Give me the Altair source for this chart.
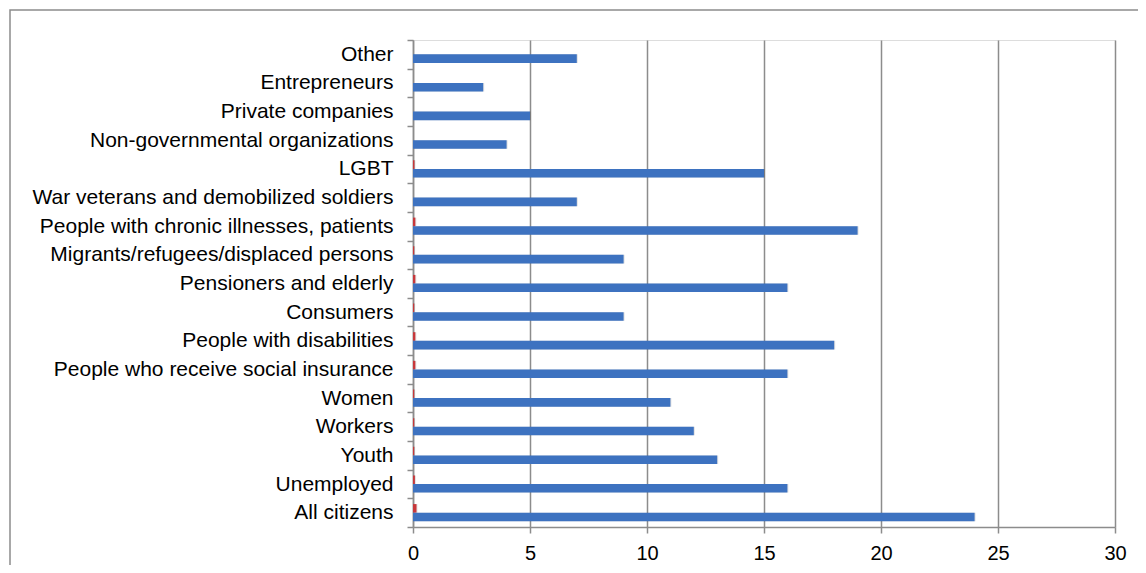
import altair as alt
import pandas as pd

categories = [
    "Other",
    "Entrepreneurs",
    "Private companies",
    "Non-governmental organizations",
    "LGBT",
    "War veterans and demobilized soldiers",
    "People with chronic illnesses, patients",
    "Migrants/refugees/displaced persons",
    "Pensioners and elderly",
    "Consumers",
    "People with disabilities",
    "People who receive social insurance",
    "Women",
    "Workers",
    "Youth",
    "Unemployed",
    "All citizens",
]
main_values = [7, 3, 5, 4, 15, 7, 19, 9, 16, 9, 18, 16, 11, 12, 13, 16, 24]
small_values = [0, 0, 0, 0, 0.06, 0, 0.1, 0.05, 0.1, 0.05, 0.1, 0.1, 0.05, 0.05, 0.05, 0.08, 0.15]
series_names = ["Series 2", "Series 1"]
series_colors = ["#c8373a", "#3d72c0"]
x_ticks = [0, 5, 10, 15, 20, 25, 30]

rows = []
for c, s2, s1 in zip(categories, small_values, main_values):
    rows.append({"category": c, "series": series_names[0], "value": s2})
    rows.append({"category": c, "series": series_names[1], "value": s1})
df = pd.DataFrame(rows)

FONT = "Liberation Sans"
GRAY = "#8c8c8c"

y_enc = alt.Y(
    "category:N",
    sort=categories,
    scale=alt.Scale(paddingInner=0, paddingOuter=0),
    axis=alt.Axis(
        title=None,
        tickBand="extent",
        grid=False,
        labelFontSize=21,
        labelFont=FONT,
        labelColor="#000000",
        labelPadding=14,
        labelLimit=500,
        tickSize=6,
        tickColor=GRAY,
        tickWidth=1.5,
        domainColor=GRAY,
        domainWidth=1.5,
    ),
)
x_enc = alt.X(
    "value:Q",
    scale=alt.Scale(domain=[0, 30], nice=False, zero=True),
    axis=alt.Axis(
        title=None,
        values=x_ticks,
        grid=True,
        gridColor=GRAY,
        gridWidth=1.5,
        labelFontSize=20,
        labelFont=FONT,
        labelColor="#000000",
        labelPadding=10,
        labelFlush=False,
        tickSize=6,
        tickColor=GRAY,
        tickWidth=1.5,
        domainColor=GRAY,
        domainWidth=1.5,
    ),
)
yoff = alt.YOffset(
    "series:N",
    sort=series_names,
    scale=alt.Scale(paddingInner=0, paddingOuter=0.667),
)

shadow = alt.Chart(df).mark_bar(
    color="#000000", opacity=0.12, xOffset=1, yOffset=3
).encode(y=y_enc, yOffset=yoff, x=x_enc)

bars = alt.Chart(df).mark_bar().encode(
    y=y_enc,
    yOffset=yoff,
    x=x_enc,
    color=alt.Color(
        "series:N",
        scale=alt.Scale(domain=series_names, range=series_colors),
        legend=None,
    ),
)

frame = alt.Chart(alt.Data(values=[{"k": 1}])).mark_rect(
    fill=None, stroke=GRAY, strokeWidth=1.5
).encode(
    x=alt.value(-403),
    x2=alt.value(800),
    y=alt.value(-30),
    y2=alt.value(600),
)

chart = alt.layer(shadow, bars, frame).properties(
    width=702,
    height=487,
    autosize=alt.AutoSizeParams(type="none"),
    padding={"left": 405, "top": 32, "right": 23, "bottom": 38},
).configure_view(stroke=None).configure(background="white")

chart.save("out.html", embed_options={"renderer": "svg", "actions": False})
